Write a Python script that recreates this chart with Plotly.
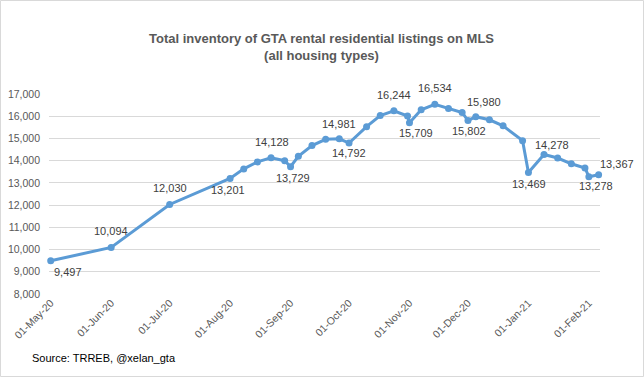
import plotly.graph_objects as go

dates = ["2020-05-01", "2020-06-01", "2020-07-01", "2020-08-01", "2020-08-08", "2020-08-15",
         "2020-08-22", "2020-08-29", "2020-09-01", "2020-09-05", "2020-09-12", "2020-09-19",
         "2020-09-26", "2020-10-01", "2020-10-10", "2020-10-17", "2020-10-24", "2020-10-31",
         "2020-11-01", "2020-11-07", "2020-11-14", "2020-11-21", "2020-11-28", "2020-12-01",
         "2020-12-05", "2020-12-12", "2020-12-19", "2020-12-29", "2021-01-01", "2021-01-09",
         "2021-01-16", "2021-01-23", "2021-01-30", "2021-02-01", "2021-02-06"]
values = [9497, 10094, 12030, 13201, 13630, 13945,
          14128, 14000, 13729, 14195, 14680, 14960,
          14981, 14792, 15530, 16030, 16244, 16010,
          15709, 16290, 16534, 16350, 16170, 15802,
          15980, 15840, 15570, 14900, 13469, 14278,
          14120, 13860, 13670, 13278, 13367]

# which points carry a data label, and where the label sits (x shift, y shift in px)
label_dates = ["2020-05-01", "2020-06-01", "2020-07-01", "2020-08-01", "2020-08-22", "2020-09-01",
               "2020-09-26", "2020-10-01", "2020-10-24", "2020-11-01", "2020-11-14", "2020-12-01",
               "2020-12-05", "2021-01-01", "2021-01-09", "2021-02-01", "2021-02-06"]
label_shift = [(17, -11), (0, 16), (0, 16), (-2, -12), (1, 16), (2, -11),
               (0, 15), (0, -10), (0, 16), (7, -10), (0, 16), (1, -10),
               (8, 15), (1, -12), (8, 9), (7, -9), (18, 11)]

tick_dates = ["2020-05-01", "2020-06-01", "2020-07-01", "2020-08-01", "2020-09-01", "2020-10-01",
              "2020-11-01", "2020-12-01", "2021-01-01", "2021-02-01"]
tick_text = ["01-May-20", "01-Jun-20", "01-Jul-20", "01-Aug-20", "01-Sep-20", "01-Oct-20",
             "01-Nov-20", "01-Dec-20", "01-Jan-21", "01-Feb-21"]
y_ticks = [8000, 9000, 10000, 11000, 12000, 13000, 14000, 15000, 16000, 17000]

FONT = "Liberation Sans"
fig = go.Figure()
fig.add_trace(go.Scatter(
    x=dates, y=values, mode="lines+markers",
    line=dict(color="#5B9BD5", width=3),
    marker=dict(color="#5B9BD5", size=7),
    cliponaxis=False,
    hoverinfo="x+y", showlegend=False,
))

annotations = []
for d, (dx, dy) in zip(label_dates, label_shift):
    v = values[dates.index(d)]
    annotations.append(dict(x=d, y=v, xref="x", yref="y", text=f"{v:,}", showarrow=False,
                            xshift=dx, yshift=dy,
                            font=dict(family=FONT, size=11, color="#404040")))

annotations.append(dict(text="<b>Total inventory of GTA rental residential listings on MLS</b><br><b>(all housing types)</b>",
                        xref="paper", yref="paper", x=0.495, y=1.235, xanchor="center", yanchor="middle",
                        showarrow=False, align="center",
                        font=dict(family=FONT, size=13, color="#595959")))
annotations.append(dict(text="Source: TRREB, @xelan_gta", xref="paper", yref="paper",
                        x=-0.035, y=-0.32, xanchor="left", yanchor="middle", showarrow=False,
                        font=dict(family=FONT, size=11, color="#000000")))

fig.update_layout(
    width=644, height=377,
    margin=dict(l=49, r=44, t=94, b=83),
    paper_bgcolor="white", plot_bgcolor="white",
    font=dict(family=FONT, color="#595959"),
    annotations=annotations,
    shapes=[dict(type="rect", xref="paper", yref="paper", x0=-0.088, x1=1.079, y0=-0.4125, y1=1.4675,
                 line=dict(color="#D9D9D9", width=1), layer="below")],
    xaxis=dict(type="date", range=["2020-04-30 03:00", "2021-02-06 17:00"], automargin=False,
               tickmode="array", tickvals=tick_dates, ticktext=tick_text, tickangle=-45,
               tickfont=dict(family=FONT, size=10.5, color="#595959"),
               showgrid=False, zeroline=False, showline=False, ticks=""),
    yaxis=dict(range=[8000, 17000], tickmode="array", tickvals=y_ticks, tickformat=",",
               automargin=False,
               tickfont=dict(family=FONT, size=10.5, color="#595959"),
               showgrid=True, gridcolor="#D9D9D9", gridwidth=1, zeroline=False, showline=False,
               ticks="", ticklabelstandoff=8),
)

fig.write_html("out.html", config={"displayModeBar": False},
               post_script="document.body.style.margin='0';document.body.style.overflow='hidden';")
